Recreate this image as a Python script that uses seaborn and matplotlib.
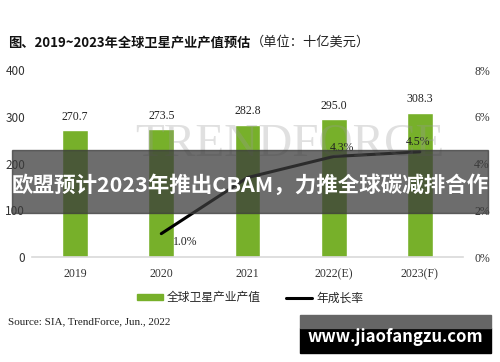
import matplotlib
matplotlib.use("Agg")
import matplotlib.pyplot as plt
import seaborn as sns
import pandas as pd
from matplotlib.patches import Rectangle
from matplotlib.lines import Line2D

# data
years = ["2019", "2020", "2021", "2022(E)", "2023(F)"]
output_bn = [270.7, 273.5, 282.8, 295.0, 308.3]
growth_pct = [None, 1.0, 3.4, 4.3, 4.5]
growth_labels = [None, "1.0%", None, "4.3%", "4.5%"]
left_ticks = [0, 100, 200, 300, 400]
right_ticks = [0, 2, 4, 6, 8]

sns.set_theme(style="white")
plt.rcParams["font.family"] = ["Noto Sans CJK SC", "DejaVu Sans"]
SERIF = ["Liberation Serif", "Noto Sans CJK SC"]
GREEN = "#77b02a"

df = pd.DataFrame({"year": years, "value": output_bn})

fig = plt.figure(figsize=(5.0, 3.62), dpi=100)
ax = fig.add_axes([0.064, 0.29, 0.862, 0.5166])

sns.barplot(data=df, x="year", y="value", color=GREEN, width=0.30,
            saturation=1, ax=ax, zorder=2)
ax.set_xlim(-0.5, 4.5)
ax.set_ylim(0, 400)
ax.set_yticks(left_ticks)
ax.set_yticklabels([str(t) for t in left_ticks], fontsize=8.5, color="#333333")
ax.set_xticks(range(len(years)))
ax.set_xticklabels(years, fontsize=8.5, family=SERIF, color="#333333")
ax.set_xlabel("")
ax.set_ylabel("")
ax.tick_params(axis="x", length=0, pad=8)
ax.tick_params(axis="y", length=0, pad=5)
for s in ["top", "right", "left"]:
    ax.spines[s].set_visible(False)
ax.spines["bottom"].set_color("#d9d9d9")
ax.spines["bottom"].set_linewidth(1.2)

for i, v in enumerate(output_bn):
    ax.text(i, v + 16, f"{v:.1f}", ha="center", va="bottom", fontsize=8.5,
            family=SERIF, color="#222222", zorder=3)

ax2 = ax.twinx()
ax2.set_ylim(0, 8)
ax2.set_yticks(right_ticks)
ax2.set_yticklabels([f"{t}%" for t in right_ticks], fontsize=8.5,
                    family=SERIF, color="#333333")
ax2.tick_params(axis="y", length=0, pad=8)
for s in ["top", "right", "left", "bottom"]:
    ax2.spines[s].set_visible(False)
gx = [i for i, g in enumerate(growth_pct) if g is not None]
gy = [g for g in growth_pct if g is not None]
sns.lineplot(x=gx, y=gy, color="black", linewidth=2.2, ax=ax2, zorder=4)
offsets = {1: (0.28, -0.35), 3: (0.1, 0.35), 4: (-0.02, 0.4)}
for i, lab in enumerate(growth_labels):
    if lab:
        dx, dy = offsets[i]
        ax2.text(i + dx, growth_pct[i] + dy, lab, ha="center", va="center",
                 fontsize=8.5, family=SERIF, color="#222222", zorder=5)
ax2.set_xlim(-0.5, 4.5)

# faint TrendForce watermark
fig.text(0.27, 0.6, "TRENDFORCE", fontsize=34, family=SERIF,
         color="#9a9a9a", alpha=0.3, va="center", zorder=10)

# title
t1 = fig.text(0.016, 0.883, "图、2019~2023年全球卫星产业产值预估", fontsize=9.5,
              fontweight="bold", color="#111111", va="center")
fig.canvas.draw()
bb = t1.get_window_extent(renderer=fig.canvas.get_renderer())
fig.text(bb.x1 / fig.bbox.width, 0.883, "（单位：十亿美元）", fontsize=9.5,
         color="#222222", va="center")

# legend
handles = [Rectangle((0, 0), 1, 1, color=GREEN),
           Line2D([0], [0], color="black", linewidth=2.2)]
fig.legend(handles, ["全球卫星产业产值", "年成长率"], loc="center",
           bbox_to_anchor=(0.5, 0.177), ncol=2, frameon=False, fontsize=8.5,
           handlelength=2.2, handleheight=0.35, columnspacing=2.2,
           handletextpad=0.3)

# source
fig.text(0.016, 0.11, "Source: SIA, TrendForce, Jun., 2022", fontsize=8,
         family=SERIF, color="#222222", va="center")

# overlay banner
fig.patches.append(Rectangle((0.024, 0.412), 0.952, 0.174,
                             transform=fig.transFigure, color="#3c3c3c",
                             alpha=0.75, zorder=20))
fig.text(0.5, 0.49, "欧盟预计2023年推出CBAM，力推全球碳减排合作", fontsize=15.5,
         fontweight="bold", color="white", ha="center", va="center", zorder=21)

# site box
fig.patches.append(Rectangle((0.6, 0.025), 0.382, 0.069,
                             transform=fig.transFigure, color="black", zorder=20))
fig.patches.append(Rectangle((0.6, 0.094), 0.382, 0.036,
                             transform=fig.transFigure, color="#666666", zorder=20))
fig.text(0.791, 0.068, "www.jiaofangzu.com", fontsize=12, fontweight="bold",
         color="white", ha="center", va="center", zorder=21)

fig.savefig("out.png", dpi=100)
